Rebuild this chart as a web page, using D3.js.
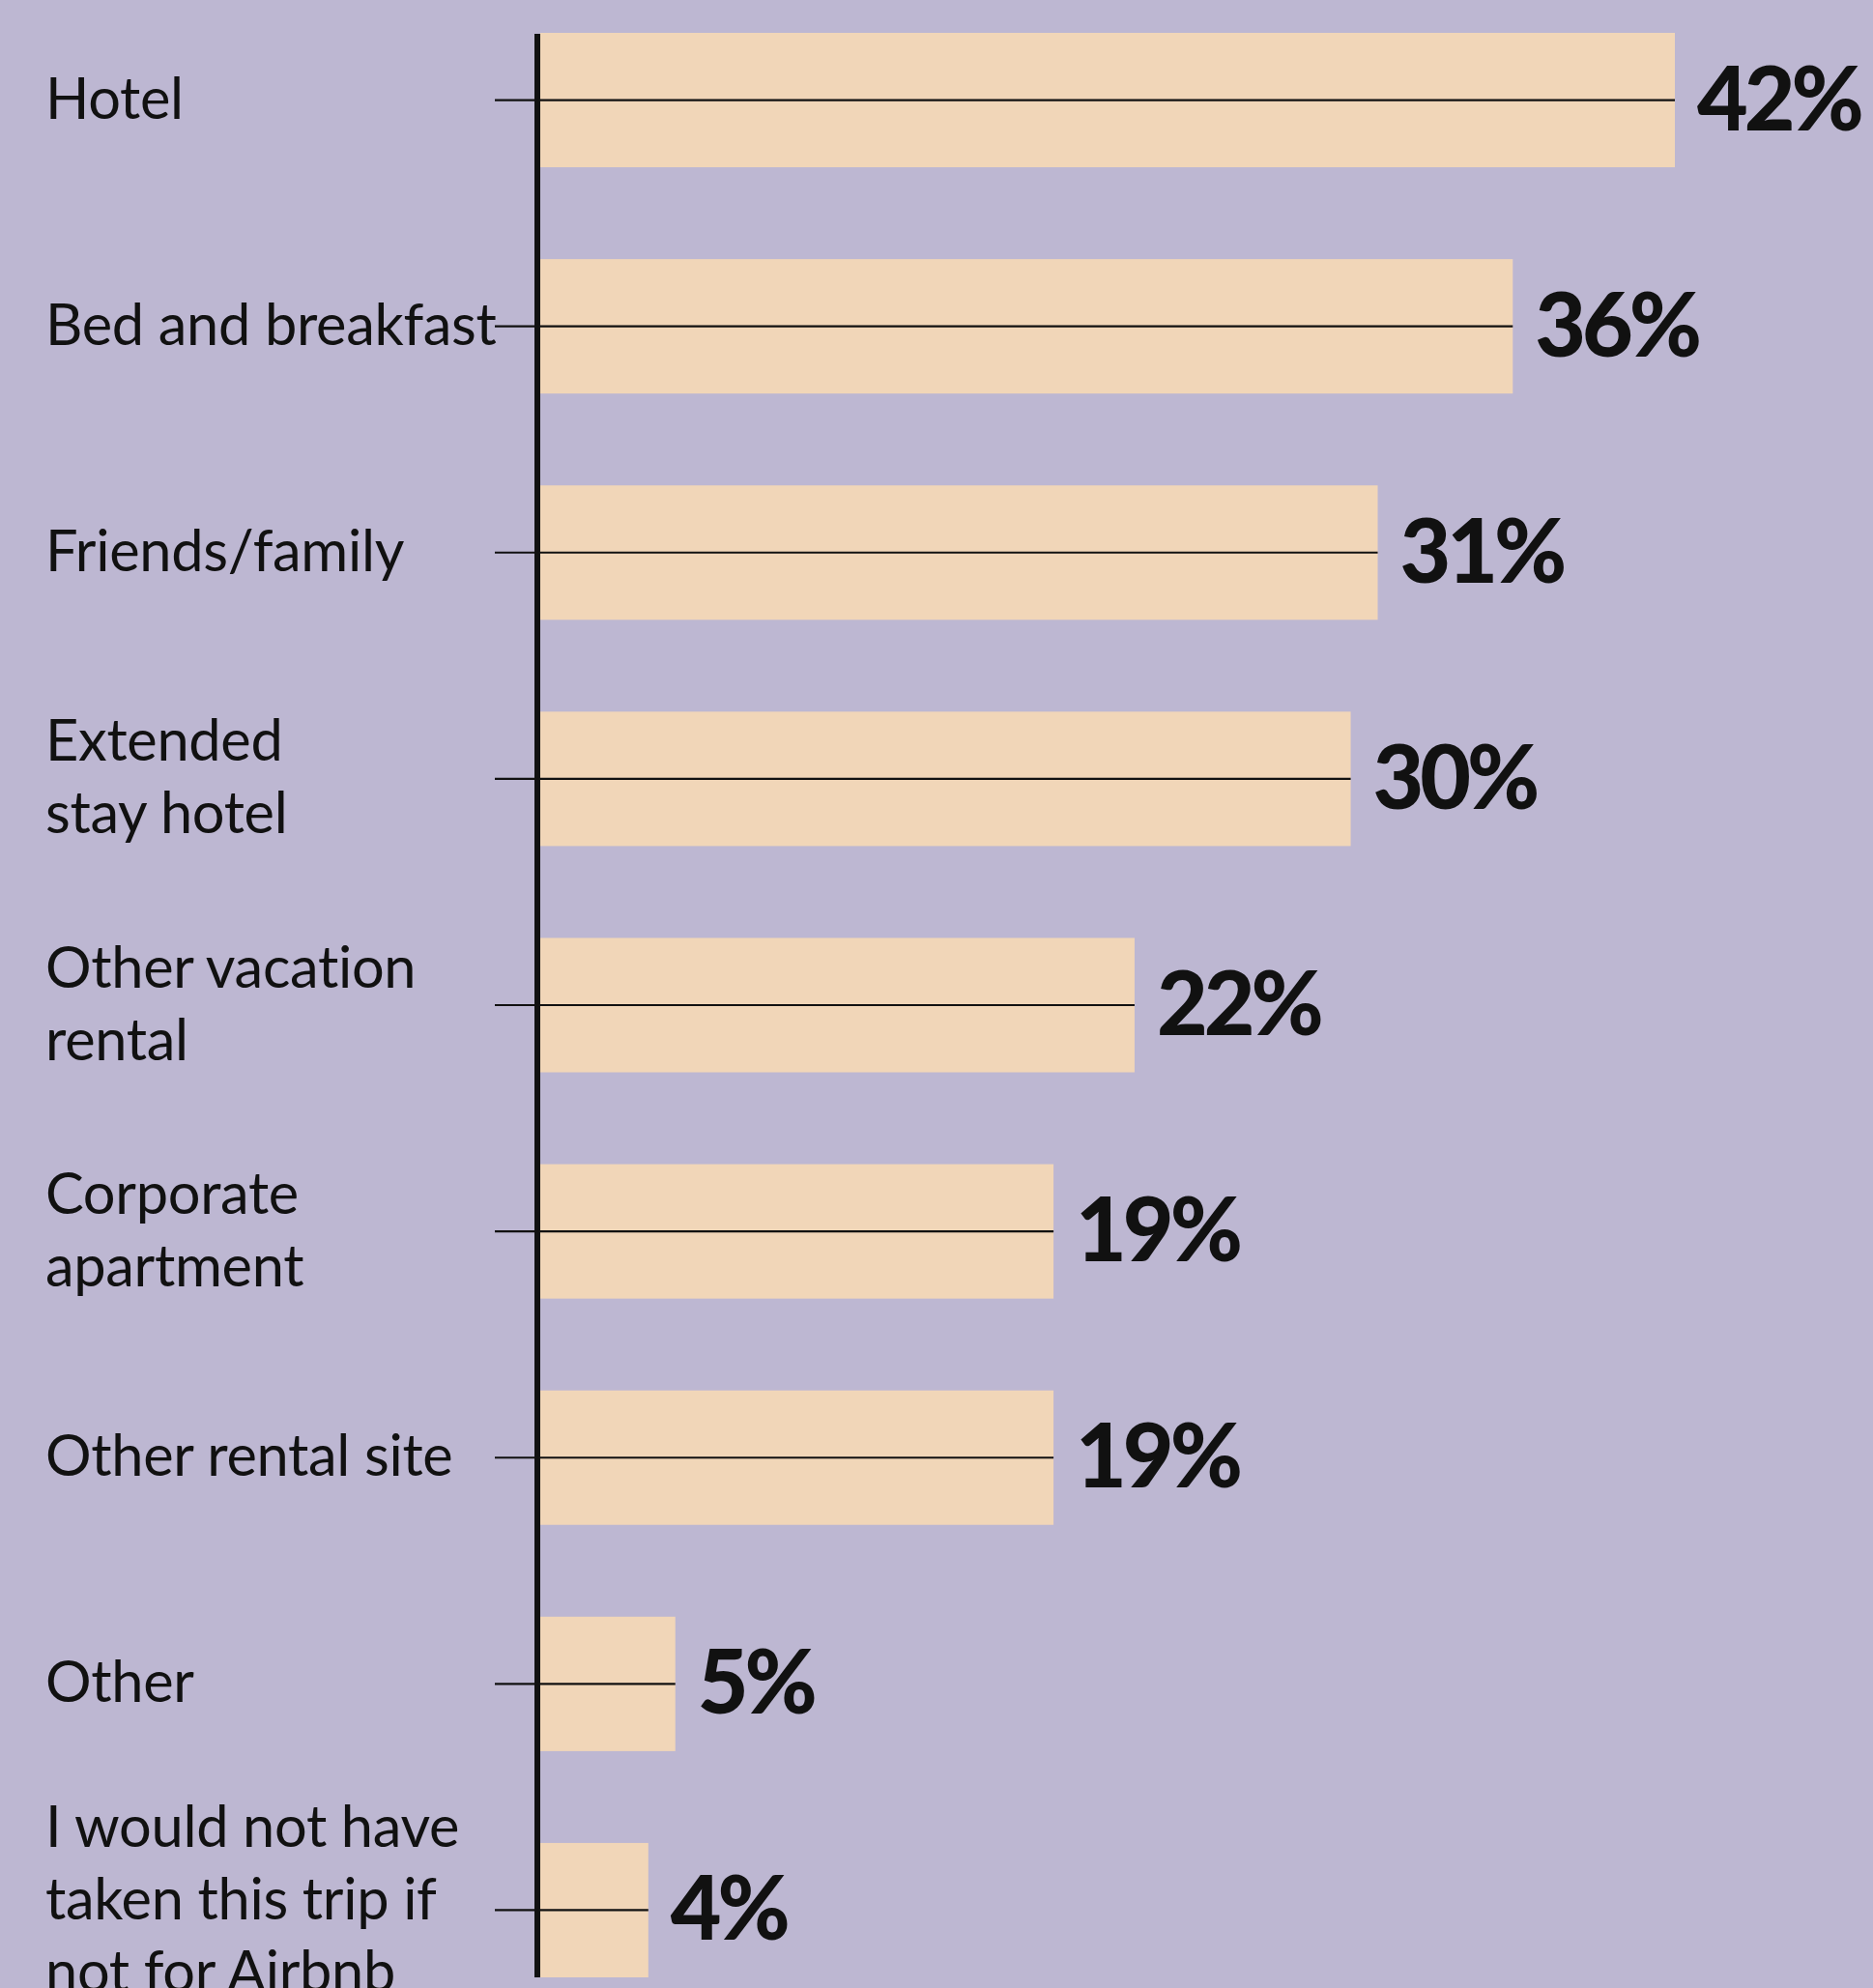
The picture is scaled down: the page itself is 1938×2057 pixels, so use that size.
<!DOCTYPE html>
<html>
<head>
<meta charset="utf-8">
<script src="https://cdn.jsdelivr.net/npm/d3@7"></script>
<style>
  html, body { margin: 0; padding: 0; background: #bdb7d2; }
  svg { display: block; }
</style>
</head>
<body>
<svg id="chart" width="1938" height="2057"></svg>
<script>
const categories = [
  "Hotel",
  "Bed and breakfast",
  "Friends/family",
  "Extended stay hotel",
  "Other vacation rental",
  "Corporate apartment",
  "Other rental site",
  "Other",
  "I would not have taken this trip if not for Airbnb"
];
const labelLines = [
  ["Hotel"],
  ["Bed and breakfast"],
  ["Friends/family"],
  ["Extended", "stay hotel"],
  ["Other vacation", "rental"],
  ["Corporate", "apartment"],
  ["Other rental site"],
  ["Other"],
  ["I would not have", "taken this trip if", "not for Airbnb"]
];
const values = [42, 36, 31, 30, 22, 19, 19, 5, 4];
const valueLabels = ["42%", "36%", "31%", "30%", "22%", "19%", "19%", "5%", "4%"];

const W = 1938, H = 2057;
const svg = d3.select("#chart");
svg.append("rect").attr("width", W).attr("height", H).attr("fill", "#bdb7d2");

const x = d3.scaleLinear().domain([0, 42]).range([559, 1733]);
const y = d3.scaleBand().domain(categories).range([34, 2046]).paddingInner(0.406).paddingOuter(0);

const data = categories.map((c, i) => ({ cat: c, value: values[i], label: valueLabels[i], lines: labelLines[i] }));

// bars
svg.append("g").selectAll("rect").data(data).join("rect")
  .attr("x", x(0))
  .attr("y", d => y(d.cat))
  .attr("width", d => x(d.value) - x(0))
  .attr("height", y.bandwidth())
  .attr("fill", "#f1d6b8");

// tick lines through bars
svg.append("g").selectAll("line").data(data).join("line")
  .attr("x1", 512)
  .attr("x2", d => x(d.value))
  .attr("y1", d => y(d.cat) + y.bandwidth() / 2)
  .attr("y2", d => y(d.cat) + y.bandwidth() / 2)
  .attr("stroke", "#111")
  .attr("stroke-width", 2.2);

// axis line
svg.append("line")
  .attr("x1", 556).attr("x2", 556)
  .attr("y1", 35).attr("y2", 2046)
  .attr("stroke", "#111").attr("stroke-width", 6);

// category labels
const lineH = 75;
const lab = svg.append("g").selectAll("text").data(data).join("text")
  .attr("font-family", "Lato, 'Noto Sans', sans-serif")
  .attr("font-size", 59.5)
  .attr("letter-spacing", -0.3)
  .attr("fill", "#111");
lab.each(function(d) {
  const cy = y(d.cat) + y.bandwidth() / 2;
  const n = d.lines.length;
  const shift = n > 2 ? -9 : 0;
  d3.select(this).selectAll("tspan").data(d.lines).join("tspan")
    .attr("x", 47)
    .attr("y", (t, i) => cy + 19 + shift + (i - (n - 1) / 2) * lineH)
    .text(t => t);
});

// value labels
svg.append("g").selectAll("text").data(data).join("text")
  .attr("x", d => x(d.value) + 23)
  .attr("y", d => y(d.cat) + y.bandwidth() / 2 + 31)
  .attr("font-family", "Lato, 'Noto Sans', sans-serif")
  .attr("font-weight", 900)
  .attr("font-size", 91)
  .attr("letter-spacing", -4)
  .attr("fill", "#111")
  .text(d => d.label);
</script>
</body>
</html>
